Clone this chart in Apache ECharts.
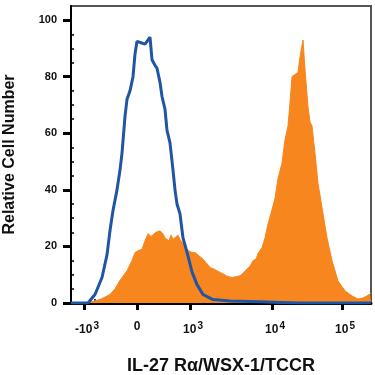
<!DOCTYPE html>
<html>
<head>
<meta charset="utf-8">
<script src="https://cdn.jsdelivr.net/npm/echarts@6/dist/echarts.min.js"></script>
<style>
  html, body { margin: 0; padding: 0; background: #fff; }
  #chart { width: 375px; height: 375px; }
</style>
</head>
<body>
<div id="chart"></div>
<script>
// histogram channels (0..300 display channels) and % of max counts
var isoChannel = [0, 17, 24, 31, 36, 39, 42, 46, 49, 51, 54, 56, 59, 62, 64, 66, 68, 70, 72, 74, 76, 78, 79, 81, 84, 86, 89, 91, 92, 94, 96, 99, 102, 104, 106, 109, 112, 116, 121, 126, 132, 142, 159, 189, 209, 229, 300];
var isoCount   = [0, 0, 3, 9, 17, 25.6, 32.7, 40, 47, 53, 66, 72, 75, 80, 88, 92.5, 93, 92, 92.5, 91.5, 92.5, 93, 94, 86, 84, 83, 78, 73, 73.5, 68.5, 61, 56.6, 47, 40, 35, 31.5, 23, 18, 11, 6.5, 3, 1.2, 0.7, 0.4, 0.2, 0, 0];

var stainChannel = [0, 14, 19, 29, 39, 44, 49, 56, 61, 64, 67, 71, 74, 77, 80, 82, 85, 87, 89, 92, 94, 96, 98, 100, 102, 104, 107, 109, 111, 114, 117, 120, 122, 124, 127, 129, 132, 134, 137, 139, 143, 146, 149, 152, 156, 161, 165, 169, 172, 176, 179, 182, 185, 187, 191, 194, 197, 201, 204, 207, 211, 214, 217, 219, 221, 224, 227, 229, 230, 232, 234, 237, 239, 241, 244, 247, 251, 256, 261, 267, 274, 281, 287, 292, 296, 299, 300];
var stainCount   = [0, 0, 0.3, 1.2, 3, 5, 8, 11.4, 15, 17.8, 18.5, 19, 22, 24.5, 23.5, 24, 25, 24.5, 25.5, 24.5, 23, 23.5, 22, 24, 22.5, 22, 24, 22.5, 23, 20, 18.5, 18, 18.5, 17.8, 17, 16.7, 15.5, 15, 13.5, 12.5, 12, 11.4, 10.8, 10.3, 9.5, 9, 9.3, 9.6, 10.5, 12, 13, 15, 15.5, 17.5, 19.6, 23, 28, 33, 37, 44, 49.5, 57.7, 62.6, 70.8, 80, 80.8, 81.5, 87, 89, 93, 82.6, 69.4, 64, 62.6, 53, 42.3, 33.8, 23, 15, 7.8, 4.3, 2.5, 1.4, 1.8, 2.5, 3.2, 3.5];

// axis ticks (fluorescence values)
var majorValues = [-1000, 0, 1000, 10000, 100000];
var majorLabels = ['{b|-10}{s|3}', '0', '{b|10}{s|3}', '{b|10}{s|4}', '{b|10}{s|5}'];
var minorValues = [-900, -800, -700, -600, -500, -400, -300, -200,
  -140, -120, -100, -80, -60, -40, -20, 20, 40, 60, 80, 100, 120, 140,
  200, 300, 400, 500, 600, 700, 800, 900,
  2000, 3000, 4000, 5000, 6000, 7000, 8000, 9000,
  20000, 30000, 40000, 50000, 60000, 70000, 80000, 90000, 200000];
var yMajor = [0, 20, 40, 60, 80, 100];
var yMinor = [5, 10, 15, 25, 30, 35, 45, 50, 55, 65, 70, 75, 85, 90, 95];

// biexponential-ish display transform: value -> channel
function chan(v) {
  if (v <= 1000) return 66 + v / 1000 * 53;
  if (v <= 10000) return 119 + 82 * Math.log10(v / 1000);
  return 201 + 70 * Math.log10(v / 10000);
}

function pairs(xs, ys) {
  return xs.map(function (x, i) { return [x, ys[i]]; });
}

var labelByChan = {};
majorValues.forEach(function (v, i) { labelByChan[chan(v).toFixed(2)] = majorLabels[i]; });

var font = '"Liberation Sans", Arial, sans-serif';
var chart = echarts.init(document.getElementById('chart'));

chart.setOption({
  animation: false,
  grid: {
    left: 71, right: 4, top: 6, bottom: 72,
    outerBoundsMode: 'none',
    show: true, borderColor: '#555', borderWidth: 2
  },
  xAxis: [
    {
      type: 'value', min: 0, max: 300,
      splitLine: { show: false },
      axisLine: { lineStyle: { color: '#000', width: 3 } },
      axisTick: { customValues: majorValues.map(chan), length: 7, lineStyle: { color: '#000', width: 3 } },
      axisLabel: {
        customValues: majorValues.map(chan),
        margin: 18,
        fontFamily: font, fontWeight: 'bold', fontSize: 12, color: '#111',
        formatter: function (v) { return labelByChan[v.toFixed(2)] || ''; },
        rich: {
          b: { fontFamily: font, fontWeight: 'bold', fontSize: 12, color: '#111', padding: [0, 0, 0, 6] },
          s: { fontFamily: font, fontWeight: 'bold', fontSize: 10, color: '#111', padding: [0, 0, 8, 1] }
        }
      },
      name: 'IL-27 R\u03b1/WSX-1/TCCR',
      nameLocation: 'middle', nameGap: 54,
      nameTextStyle: { fontFamily: font, fontWeight: 'bold', fontSize: 18, color: '#111' }
    },
    {
      type: 'value', min: 0, max: 300,
      splitLine: { show: false },
      axisLine: { show: false },
      axisTick: { customValues: minorValues.map(chan), length: 4, lineStyle: { color: '#000', width: 1.5 } },
      axisLabel: { show: false }
    }
  ],
  yAxis: [
    {
      type: 'value', min: 0, max: 105,
      splitLine: { show: false },
      axisLine: { show: true, lineStyle: { color: '#000', width: 2 } },
      axisTick: { show: true, customValues: yMajor, length: 8, lineStyle: { color: '#000', width: 3 } },
      axisLabel: {
        customValues: yMajor, margin: 14,
        fontFamily: font, fontWeight: 'bold', fontSize: 11, color: '#111'
      },
      name: 'Relative Cell Number',
      nameLocation: 'middle', nameGap: 53,
      nameTextStyle: { fontFamily: font, fontWeight: 'bold', fontSize: 16, color: '#111' }
    },
    {
      type: 'value', min: 0, max: 105,
      splitLine: { show: false },
      axisLine: { show: false },
      axisTick: { show: true, customValues: yMinor, length: 3, lineStyle: { color: '#000', width: 1.5 } },
      axisLabel: { show: false }
    }
  ],
  series: [
    {
      name: 'Stained',
      type: 'line',
      data: pairs(stainChannel, stainCount),
      symbol: 'none',
      lineStyle: { width: 1, color: '#f7861e' },
      areaStyle: { color: '#f7861e', opacity: 1 },
      z: 2
    },
    {
      name: 'Isotype',
      type: 'line',
      data: pairs(isoChannel, isoCount),
      symbol: 'none',
      lineStyle: { width: 3, color: '#1f55a5' },
      z: 3
    }
  ]
});
</script>
</body>
</html>
